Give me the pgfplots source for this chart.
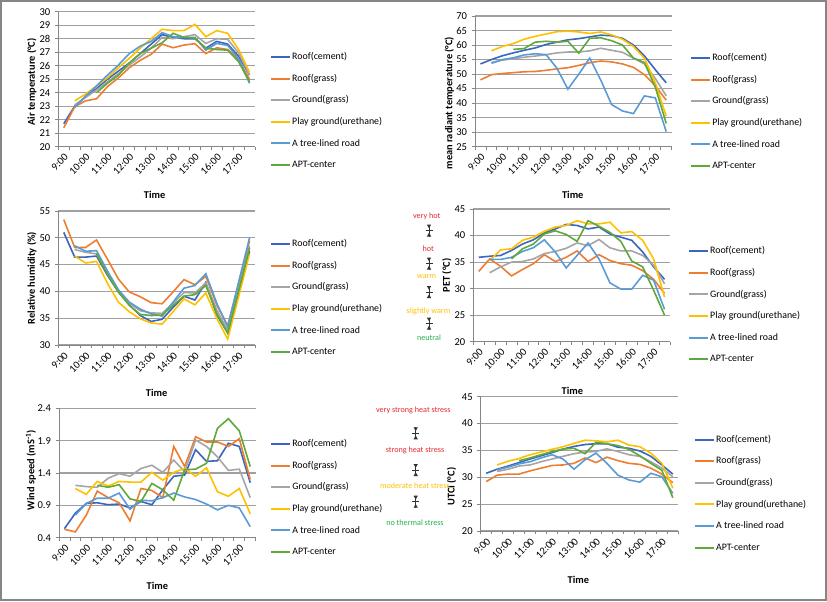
\documentclass[border=0pt]{standalone}
\usepackage{fontspec}
\setmainfont{Carlito}
\usepackage{pgfplots}
\usepackage{pgfplotstable}
\pgfplotsset{compat=1.18}

\definecolor{c1}{HTML}{3A67BD}
\definecolor{c2}{HTML}{ED7D31}
\definecolor{c3}{HTML}{A5A5A5}
\definecolor{c4}{HTML}{FFC000}
\definecolor{c5}{HTML}{5B9BD5}
\definecolor{c6}{HTML}{5FA83A}
\definecolor{gridc}{HTML}{A0A0A0}
\definecolor{axc}{HTML}{868686}
\definecolor{anred}{HTML}{E8262D}
\definecolor{anyel}{HTML}{FFC000}
\definecolor{angrn}{HTML}{22B04C}

% Air temperature
\pgfplotstableread{
t rc rg gg pg tr apt
0 21.7 21.4 nan nan nan nan
1 23.0 22.96 23.1 23.4 22.9 nan
2 23.7 23.4 23.65 23.9 23.75 nan
3 24.3 23.55 24.2 24.5 24.5 24.0
4 25.0 24.45 24.8 25.1 25.3 24.7
5 25.6 25.1 25.4 25.85 26.05 25.3
6 26.2 25.85 26.05 26.55 26.9 26.2
7 26.9 26.4 26.65 27.3 27.45 26.9
8 27.6 26.85 27.3 28.0 27.8 27.3
9 28.3 27.6 28.1 28.7 28.45 27.7
10 28.1 27.33 28.0 28.6 28.15 28.4
11 28.0 27.53 28.15 28.6 28.1 28.1
12 28.0 27.63 28.3 29.06 28.1 28.05
13 27.3 26.9 27.65 28.15 27.15 27.3
14 27.8 27.33 28.0 28.6 27.65 27.2
15 27.6 27.2 27.95 28.4 27.5 27.15
16 26.7 26.4 26.95 27.2 26.5 26.3
17 25.3 25.0 25.3 25.5 24.7 24.8
}\tabA

% Mean radiant temperature
\pgfplotstableread{
t rc rg gg pg tr apt
0 53.5 48.0 nan nan nan nan
1 55.0 49.8 54.0 58.0 53.7 nan
2 56.3 50.2 54.8 59.5 55.0 nan
3 57.3 50.5 55.3 60.5 55.6 58.5
4 58.2 50.8 55.8 62.0 56.6 58.8
5 59.0 50.9 56.2 63.0 57.0 61.0
6 60.2 51.3 56.7 63.8 56.7 61.3
7 61.0 51.8 57.3 64.6 52.0 61.0
8 61.8 52.2 57.6 64.8 44.8 61.3
9 62.2 53.0 57.6 64.5 50.0 57.2
10 62.8 53.9 58.0 64.0 55.5 62.3
11 63.4 54.5 58.9 64.5 48.0 62.5
12 63.2 54.2 58.2 63.5 39.5 61.5
13 62.3 53.5 57.5 62.0 37.3 60.0
14 60.0 52.3 55.5 59.5 36.4 55.5
15 56.3 49.8 53.5 55.5 42.5 54.0
16 51.5 46.0 48.5 47.0 41.8 45.5
17 47.0 41.0 42.5 35.5 30.2 33.0
}\tabB

% Relative humidity
\pgfplotstableread{
t rc rg gg pg tr apt
0 51.0 53.4 nan nan nan nan
1 46.4 48.2 47.8 46.6 48.5 nan
2 46.4 48.2 47.3 45.3 47.5 nan
3 46.6 49.6 47.0 45.6 47.6 47.1
4 43.0 46.0 43.5 41.5 43.8 43.2
5 39.9 42.3 40.0 38.0 40.3 39.9
6 37.5 39.9 37.8 36.2 38.0 37.4
7 35.5 39.0 36.4 34.9 36.7 35.7
8 34.4 37.9 36.0 34.1 35.8 35.5
9 34.8 37.7 35.9 33.9 35.4 35.6
10 37.0 39.9 37.8 36.2 38.0 37.4
11 39.1 42.2 39.8 38.6 40.6 39.1
12 38.4 41.25 39.7 37.5 41.1 39.4
13 41.7 42.8 41.6 39.7 43.3 41.1
14 35.6 37.5 36.6 35.0 37.8 35.9
15 32.3 33.6 32.7 31.1 33.4 32.2
16 39.9 41.5 40.6 39.0 41.7 40.1
17 47.5 49.4 48.5 47.0 50.0 48.1
}\tabC

% PET
\pgfplotstableread{
t rc rg gg pg tr apt
0 35.9 33.25 nan nan nan nan
1 36.1 35.6 33.0 35.3 35.5 nan
2 36.25 34.2 34.1 37.3 35.5 nan
3 37.2 32.4 35.0 37.5 35.9 35.6
4 38.4 33.6 35.1 39.1 37.0 37.5
5 39.2 34.7 35.6 39.7 37.7 38.4
6 40.5 36.4 36.6 40.8 39.2 40.3
7 41.25 35.1 37.0 41.6 36.9 40.9
8 42.1 35.9 37.6 41.9 33.9 40.2
9 41.9 37.1 38.6 42.8 36.25 38.9
10 41.25 35.1 38.1 42.2 38.6 42.8
11 41.6 36.4 39.25 42.2 35.6 41.75
12 40.3 35.3 37.7 42.5 31.1 40.6
13 39.7 34.7 37.1 40.5 29.9 38.9
14 39.1 34.4 37.1 40.75 29.9 35.2
15 36.9 33.4 36.25 39.1 32.5 34.1
16 34.1 31.75 34.4 35.6 31.6 29.7
17 31.75 29.1 30.9 28.4 26.1 25.0
}\tabD

% Wind speed
\pgfplotstableread{
t rc rg gg pg tr apt
0 0.54 0.53 nan nan nan nan
1 0.78 0.49 1.21 1.16 0.75 nan
2 0.93 0.75 1.19 1.07 0.93 nan
3 0.94 1.12 1.18 1.27 1.01 1.21
4 0.91 1.02 1.32 1.20 1.01 1.18
5 0.92 0.94 1.39 1.27 1.09 1.22
6 0.86 0.66 1.35 1.26 0.84 1.00
7 0.96 1.16 1.47 1.26 0.98 0.96
8 0.91 1.13 1.52 1.41 0.97 1.24
9 1.14 1.02 1.41 1.29 1.02 1.14
10 1.35 1.81 1.60 1.41 1.09 0.98
11 1.37 1.50 1.42 1.47 1.03 1.45
12 1.76 1.96 1.91 1.35 0.99 1.46
13 1.58 1.88 1.81 1.48 0.92 1.55
14 1.59 1.88 1.65 1.11 0.83 2.09
15 1.86 1.81 1.44 1.04 0.90 2.24
16 1.81 1.93 1.46 1.16 0.86 2.05
17 1.25 1.30 1.02 0.77 0.57 1.50
}\tabE

% UTCI
\pgfplotstableread{
t rc rg gg pg tr apt
0 30.75 29.2 nan nan nan nan
1 31.5 30.4 31.1 32.3 31.4 nan
2 32.1 30.6 31.5 33.0 31.9 nan
3 32.75 30.6 32.1 33.5 32.5 33.1
4 33.4 31.2 32.3 34.2 32.9 33.6
5 34.0 31.7 32.9 34.7 33.6 34.2
6 34.6 32.2 33.4 35.2 34.2 34.8
7 35.25 32.3 33.9 35.7 33.4 35.25
8 35.75 32.6 34.4 36.3 31.5 35.4
9 36.1 33.6 34.7 36.9 33.25 34.4
10 36.25 32.75 34.8 36.8 34.5 36.5
11 36.25 33.75 35.3 36.6 32.6 36.25
12 35.6 33.1 34.8 36.9 30.4 35.9
13 35.4 32.6 34.2 36.0 29.5 35.2
14 34.9 32.4 33.9 35.7 29.1 34.0
15 33.9 31.7 32.9 34.5 30.75 32.6
16 32.3 30.6 31.7 32.6 30.1 31.3
17 30.6 29.0 30.1 28.0 27.0 26.2
}\tabF

\pgfplotsset{
  panel/.style={
    scale only axis,
    anchor=south west,
    xmin=-0.5, xmax=17.5,
    axis x line*=bottom, axis y line*=left,
    axis line style={draw=axc, line width=0.6pt},
    tick style={draw=axc, line width=0.6pt},
    tick align=outside,
    major tick length=2.5pt,
    xtick={-0.5,0.5,...,17.5}, xticklabel=\empty,
    extra x ticks={0,2,...,16},
    extra x tick labels={9:00,10:00,11:00,12:00,13:00,14:00,15:00,16:00,17:00},
    extra x tick style={major tick length=0pt},
    ymajorgrids,
    grid style={draw=gridc, line width=0.8pt},
    xticklabel style={rotate=45, anchor=north east, inner sep=3.2pt},
    tick label style={font=\fontsize{7.9}{9}\selectfont},
    /pgf/number format/assume math mode=true,
    label style={font=\bfseries\fontsize{7.8}{9}\selectfont},
    xlabel=Time,
    legend style={draw=none, fill=none, font=\fontsize{7.4}{9}\selectfont,
      anchor=north west, row sep=6.2pt, inner sep=0pt,
      nodes={inner sep=1pt, text height=6pt, text depth=2pt}},
    legend cell align=left,
    legend image code/.code={\draw[#1, line width=1.5pt] (0pt,0pt) -- (14pt,0pt);},
    no markers,
  }
}

\newcommand{\sixplots}[1]{%
  \addplot[c1, line width=1.2pt] table[x=t,y=rc]{#1};
  \addplot[c2, line width=1.2pt] table[x=t,y=rg]{#1};
  \addplot[c3, line width=1.2pt] table[x=t,y=gg]{#1};
  \addplot[c4, line width=1.2pt] table[x=t,y=pg]{#1};
  \addplot[c5, line width=1.2pt] table[x=t,y=tr]{#1};
  \addplot[c6, line width=1.2pt] table[x=t,y=apt]{#1};
  \legend{Roof(cement),Roof(grass),Ground(grass),Play ground(urethane),A tree-lined road,APT-center}%
}

\newcommand{\tsym}[2]{%
  \fill[black!80] (#1-2.2,#2-6) -- (#1+2.2,#2-6) -- (#1,#2-2.3) -- cycle;
  \draw[black!80, line width=0.5pt] (#1,#2-6) -- (#1,#2+6);
  \draw[black!80, line width=0.5pt] (#1-3.5,#2) -- (#1+3.5,#2);
  \fill[black!80] (#1-2.2,#2+6) -- (#1+2.2,#2+6) -- (#1,#2+2.3) -- cycle;
}

\begin{document}
\begin{tikzpicture}
\begin{scope}[x=0.75pt,y=-0.75pt]
  \useasboundingbox (0,0) rectangle (827,601);
  \draw[axc, line width=0.8pt] (1,1) rectangle (826,600);
\end{scope}

% Panel 1: Air temperature
\begin{axis}[panel, at={(43.725pt,-110.025pt)}, width=147.525pt, height=101.25pt,
  ymin=20, ymax=30, ytick={20,21,...,30},
  ylabel={Air temperature (°C)},
  ylabel style={at={(axis description cs:-0.135,0.48)}, anchor=center},
  xlabel style={at={(axis description cs:0.49,-0.358)}, anchor=center},
  legend style={at={(axis description cs:1.076,0.716)}}]
  \sixplots{\tabA}
\end{axis}

% Panel 2: Mean radiant temperature
\begin{axis}[panel, at={(356.25pt,-110.025pt)}, width=147.525pt, height=98.025pt,
  ymin=25, ymax=70, ytick={25,30,...,70},
  ylabel={mean radiant temperature (°C)},
  ylabel style={at={(axis description cs:-0.13,0.334)}, anchor=center},
  xlabel style={at={(axis description cs:0.497,-0.37)}, anchor=center},
  legend style={at={(axis description cs:1.093,0.732)}}]
  \sixplots{\tabB}
\end{axis}

% Panel 3: Relative humidity
\begin{axis}[panel, at={(43.725pt,-258.75pt)}, width=147.525pt, height=100.5pt,
  ymin=30, ymax=55, ytick={30,35,...,55},
  ylabel={Relative humidity (\%)},
  ylabel style={at={(axis description cs:-0.135,0.5)}, anchor=center},
  xlabel style={at={(axis description cs:0.5,-0.36)}, anchor=center},
  legend style={at={(axis description cs:1.076,0.806)}}]
  \sixplots{\tabC}
\end{axis}

% Panel 4: PET
\begin{axis}[panel, at={(354.975pt,-256.275pt)}, width=147.525pt, height=99.525pt,
  ymin=20, ymax=45, ytick={20,25,...,45},
  ylabel={PET (°C)},
  ylabel style={at={(axis description cs:-0.135,0.5)}, anchor=center},
  xlabel style={at={(axis description cs:0.504,-0.372)}, anchor=center},
  legend style={at={(axis description cs:1.091,0.734)}}]
  \sixplots{\tabD}
\end{axis}

% Panel 5: Wind speed
\begin{axis}[panel, at={(44.25pt,-403.275pt)}, width=147.525pt, height=97.05pt,
  ymin=0.4, ymax=2.4, ytick={0.4,0.9,1.4,1.9,2.4},
  yticklabel style={/pgf/number format/.cd, fixed, fixed zerofill, precision=1},
  ylabel={Wind speed (mS\textsuperscript{-1})},
  ylabel style={at={(axis description cs:-0.143,0.523)}, anchor=center},
  xlabel style={at={(axis description cs:0.5,-0.371)}, anchor=center},
  legend style={at={(axis description cs:1.073,0.778)}}]
  \sixplots{\tabE}
\end{axis}

% Panel 6: UTCI
\begin{axis}[panel, at={(360.525pt,-398.25pt)}, width=148.2pt, height=100.725pt,
  ymin=20, ymax=45, ytick={20,25,...,45},
  ylabel={UTCI (°C)},
  ylabel style={at={(axis description cs:-0.147,0.33)}, anchor=center},
  xlabel style={at={(axis description cs:0.494,-0.365)}, anchor=center},
  legend style={at={(axis description cs:1.079,0.732)}}]
  \sixplots{\tabF}
\end{axis}

% Thermal sensation scales
\begin{scope}[x=0.75pt,y=-0.75pt, every node/.style={font=\fontsize{6.1}{7}\selectfont, inner sep=0pt}]
  \node[text=anred] at (426.7,216.7) {very hot};
  \tsym{429}{230.5}
  \node[text=anred] at (428.3,248.3) {hot};
  \tsym{429}{263.5}
  \node[text=anyel] at (426.7,276.7) {warm};
  \tsym{429}{292}
  \node[text=anyel] at (428.3,311) {slightly warm};
  \tsym{429}{323.5}
  \node[text=angrn] at (429,337.7) {neutral};

  \node[text=anred] at (413.3,410) {very strong heat stress};
  \tsym{415.7}{433.3}
  \node[text=anred] at (415,450) {strong heat stress};
  \tsym{415.7}{470}
  \node[text=anyel] at (415,485.7) {moderate heat stress};
  \tsym{415.7}{501.7}
  \node[text=angrn] at (415,522.3) {no thermal stress};
\end{scope}
\end{tikzpicture}
\end{document}
